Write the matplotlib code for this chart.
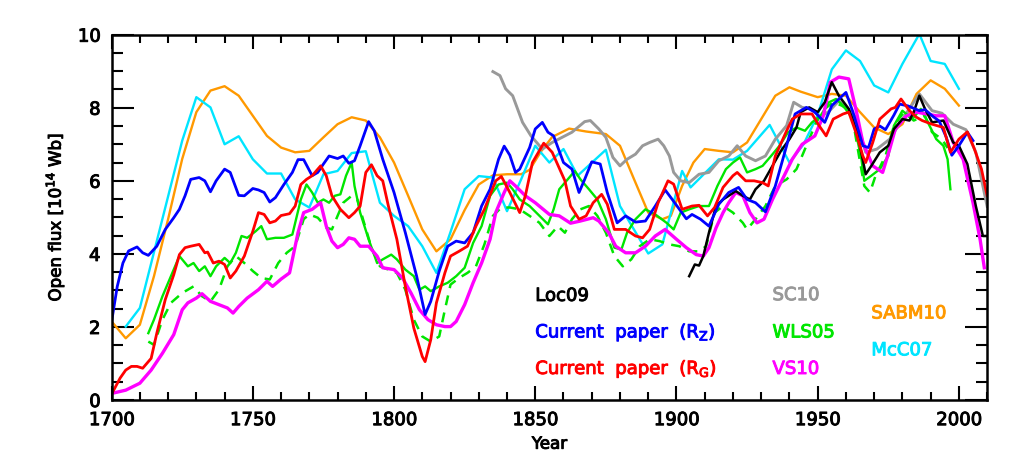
"""Open solar flux reconstructions 1700-2010."""

import numpy as np
from matplotlib import pyplot as plt
from matplotlib import patheffects as pe

# SABM10 (orange)
sabm_yr = [1700, 1705, 1710, 1715, 1720, 1725, 1730, 1735, 1740, 1745, 1750, 1755, 1760, 1765,
           1770, 1775, 1780, 1785, 1790, 1795, 1800, 1805, 1810, 1815, 1820, 1825, 1830, 1835,
           1840, 1845, 1848, 1852, 1856, 1862, 1868, 1875, 1880, 1885, 1890, 1895, 1898, 1902,
           1906, 1910, 1915, 1920, 1925, 1930, 1935, 1940, 1944, 1950, 1955, 1960, 1965, 1970,
           1975, 1980, 1985, 1990, 1995, 2000]
sabm_val = [2.15, 1.69, 2.06, 3.39, 4.95, 6.6, 7.88, 8.47, 8.59, 8.33, 7.78, 7.23, 6.91, 6.78,
            6.82, 7.19, 7.55, 7.74, 7.65, 7.19, 6.5, 5.59, 4.67, 4.07, 4.4, 5.2, 5.9, 6.15,
            6.18, 6.18, 6.3, 6.8, 7.2, 7.43, 7.35, 7.28, 6.96, 6.04, 5.13, 4.95, 5.04, 5.86,
            6.5, 6.87, 6.82, 6.78, 7.05, 7.69, 8.33, 8.56, 8.44, 8.29, 8.38, 8.33, 7.88, 7.46,
            7.28, 7.55, 8.38, 8.75, 8.52, 8.06]

# McC07 (cyan)
mcc_yr = [1705, 1710, 1725, 1730, 1735, 1740, 1745, 1750, 1755, 1760, 1765, 1770, 1775, 1780,
          1785, 1790, 1795, 1800, 1805, 1810, 1815, 1820, 1825, 1830, 1835, 1840, 1845, 1850,
          1855, 1860, 1865, 1875, 1880, 1890, 1895, 1902, 1905, 1915, 1920, 1925, 1933, 1940,
          1945, 1950, 1955, 1960, 1965, 1970, 1975, 1980, 1986, 1990, 1995, 2000]
mcc_val = [2.01, 2.52, 7.1, 8.29, 8.01, 7.0, 7.22, 6.59, 6.2, 6.2, 5.49, 5.27, 6.18, 6.27,
           6.76, 6.81, 5.4, 5.04, 4.76, 4.21, 3.48, 4.6, 5.77, 6.13, 6.09, 5.17, 6.04, 6.96,
           6.5, 6.87, 6.14, 6.85, 5.31, 4.01, 4.26, 6.27, 5.82, 6.59, 6.58, 6.82, 7.53, 6.5,
           7.0, 7.8, 9.05, 9.57, 9.28, 8.61, 8.42, 9.2, 10.02, 9.28, 9.2, 8.52]

# Current paper, R_Z (blue)
rz_yr = [1700, 1702, 1704, 1706, 1709, 1711, 1713, 1716, 1719, 1722, 1724, 1726, 1728, 1731,
         1733, 1735, 1737, 1740, 1742, 1745, 1747, 1750, 1752, 1754, 1756, 1758, 1761, 1764,
         1766, 1768, 1771, 1773, 1775, 1777, 1780, 1782, 1784, 1786, 1788, 1791, 1793, 1796,
         1800, 1804, 1808, 1811, 1813, 1816, 1819, 1822, 1825, 1828, 1831, 1834, 1837, 1839,
         1841, 1843, 1844.5, 1848, 1850, 1852.5, 1854.5, 1856.5, 1860, 1863, 1865.5, 1867.5,
         1870, 1873, 1875.5, 1879, 1882, 1885.5, 1889, 1892.5, 1896, 1898.5, 1903.5, 1905.5,
         1908.5, 1911.5, 1915, 1918.5, 1922, 1925, 1928, 1931.5, 1935, 1939, 1942, 1946, 1949,
         1952.5, 1955, 1960, 1962.5, 1966, 1968, 1970, 1972, 1974, 1977, 1979, 1982, 1986,
         1988, 1991, 1993, 1995.5, 1997.5, 2000, 2003, 2005]
rz_val = [2.15, 3.11, 3.75, 4.08, 4.19, 4.03, 3.96, 4.21, 4.67, 4.99, 5.22, 5.59, 6.04, 6.09,
          6.0, 5.7, 6.0, 6.32, 6.23, 5.6, 5.59, 5.79, 5.75, 5.68, 5.42, 5.54, 5.9, 6.23,
          6.58, 6.58, 6.14, 6.23, 6.46, 6.68, 6.61, 6.68, 6.48, 6.55, 6.96, 7.62, 7.37, 6.59,
          5.68, 4.58, 3.39, 2.34, 2.7, 3.53, 4.21, 4.35, 4.3, 4.58, 5.31, 5.77, 6.59, 6.95,
          6.7, 6.23, 6.32, 6.91, 7.42, 7.6, 7.33, 7.23, 6.5, 6.32, 5.68, 6.04,
          6.52, 6.46, 5.68, 4.85, 5.04, 4.87, 4.9, 5.31, 5.75, 5.49, 4.96, 5.08,
          4.95, 4.76, 5.36, 5.68, 5.82, 5.49, 5.4, 5.15, 5.86, 6.96, 7.83, 8.01, 7.88,
          7.6, 8.06, 8.42, 7.88, 6.96, 6.91, 7.42, 7.5, 7.4, 7.8, 8.1, 8.05, 7.92,
          7.95, 7.75, 7.64, 7.2, 6.7, 6.96, 7.33, 7.1]

# Current paper, R_G (red)
rg_yr = [1700, 1703, 1705, 1707, 1709, 1711, 1714, 1716, 1719, 1722, 1724, 1726, 1728, 1731,
         1733, 1734, 1736, 1738, 1740, 1742, 1744, 1747, 1750, 1752, 1754, 1756, 1758, 1760,
         1763, 1765, 1767, 1769, 1771, 1774, 1776, 1778, 1781, 1784, 1786, 1788, 1790, 1792,
         1794, 1796, 1798, 1801, 1804, 1807, 1810, 1811, 1813, 1815, 1818, 1820, 1823, 1826,
         1829, 1832, 1836, 1838, 1841, 1844.5, 1846.5, 1849, 1853, 1856, 1860.5, 1862.5,
         1865.5, 1868, 1870.5, 1873.5, 1875.5, 1878, 1882, 1885.5, 1888, 1890.5, 1893.5,
         1897, 1899, 1902, 1905.5, 1908, 1911, 1913.5, 1916.5, 1920, 1921.5, 1924.5, 1927.5,
         1930.5, 1932.5, 1935, 1939, 1941, 1944, 1948, 1950.5, 1953, 1955.5, 1959, 1961,
         1963.5, 1966, 1967, 1969.5, 1972, 1974, 1976, 1977.5, 1979.5, 1982.5, 1985, 1987,
         1990.5, 1994.5, 1997, 2000, 2003, 2005.5, 2008, 2010]
rg_val = [0.16, 0.6, 0.82, 0.92, 0.92, 0.87, 1.14, 1.83, 2.75, 3.43, 3.98, 4.17, 4.21, 4.26,
          4.03, 4.05, 3.75, 3.8, 3.71, 3.34, 3.53, 3.94, 4.62, 5.13, 5.08, 4.85, 4.9, 5.05,
          5.1, 5.31, 5.9, 6.04, 6.14, 6.41, 6.14, 5.59, 5.22, 4.99, 5.13, 5.31, 6.23, 6.44,
          6.14, 6.0, 5.31, 4.4, 3.11, 1.97, 1.19, 1.05, 1.65, 2.66, 3.48, 3.94, 4.07, 4.21,
          4.76, 5.22, 6.0, 6.12, 5.68, 5.13, 5.59, 6.5, 7.03, 6.78, 6.0, 5.31,
          4.95, 5.04, 5.4, 5.63, 5.36, 4.67, 4.67, 4.49, 4.44, 4.67, 5.4,
          6.0, 5.91, 5.22, 5.31, 5.33, 5.04, 5.27, 5.82, 6.14, 6.23, 6.0, 6.0,
          5.95, 5.86, 6.68, 7.37, 7.69, 7.83, 7.83, 7.51, 7.23, 7.69, 7.83, 7.88,
          7.33, 6.68, 6.5, 7.05, 7.69, 7.83, 7.97, 8.01, 8.24, 7.92, 7.74, 7.65,
          7.55, 7.46, 6.78, 7.14, 7.34, 6.87, 6.32, 5.59]

# Loc09 (black)
loc_yr = [1904.5, 1906.5, 1908, 1909.5, 1911.5, 1914, 1916.5, 1918.5, 1921, 1923.5, 1926,
          1928, 1931, 1934, 1937, 1940, 1942.5, 1944, 1947, 1950, 1952.5, 1955, 1957.5, 1961,
          1964, 1967, 1969, 1972, 1975, 1977, 1980, 1982.5, 1984, 1986, 1988, 1990.5, 1994.5,
          1998, 2000, 2003, 2006, 2008.5, 2009.5]
loc_val = [3.39, 3.71, 3.68, 3.94, 4.58, 5.31, 5.49, 5.59, 5.72, 5.59, 5.49, 5.77, 6.0, 6.41,
           6.82, 7.14, 7.46, 7.88, 8.01, 7.88, 8.15, 8.7, 8.33, 7.97, 7.33, 6.18, 6.41, 6.78,
           6.96, 7.42, 7.69, 7.65, 7.88, 8.33, 7.97, 7.6, 7.65, 7.05, 6.96, 6.46, 5.31, 4.49,
           4.49]

# SC10 (grey)
sc_yr = [1835, 1837.5, 1839.5, 1842, 1845.5, 1848.5, 1852.5, 1856, 1859.5, 1863, 1867.5,
         1869.5, 1872.5, 1875, 1877.5, 1880, 1882.5, 1885.5, 1888, 1890.5, 1893.5, 1895.5,
         1897.5, 1899, 1901.5, 1904.5, 1908, 1911.5, 1915, 1918.5, 1921.5, 1924.5, 1928,
         1931.5, 1935, 1939, 1941.5, 1944.5, 1947.5, 1951, 1954, 1957.5, 1961, 1963.5, 1967,
         1971, 1975.5, 1980, 1986, 1990.5, 1994, 1998, 2002.5, 2006, 2010]
sc_val = [8.99, 8.88, 8.52, 8.33, 7.6, 7.23, 6.87, 7.05, 7.19, 7.33, 7.62, 7.65, 7.42, 7.19,
          6.64, 6.41, 6.59, 6.73, 6.96, 7.05, 7.14, 6.96, 6.68, 6.23, 6.0, 5.95, 6.18, 6.23,
          6.55, 6.68, 6.96, 6.68, 6.55, 6.68, 7.14, 7.51, 8.15, 8.01, 7.97, 7.75, 7.9, 8.19,
          7.95, 7.74, 6.78, 6.87, 7.14, 7.69, 8.38, 7.92, 7.85, 7.55, 7.4, 6.78, 5.3]

# VS10 (magenta)
vs_yr = [1700, 1705, 1710, 1714, 1718, 1722, 1725, 1727, 1730, 1732, 1735, 1738, 1741, 1743,
         1745, 1748, 1752, 1755, 1757, 1760, 1763, 1766, 1768, 1771, 1774, 1776, 1778, 1780,
         1782, 1784, 1786, 1788, 1791, 1794, 1796, 1800, 1803, 1806, 1809, 1812, 1815, 1818,
         1820, 1822, 1825, 1828, 1831, 1834, 1836, 1839, 1841, 1843, 1846.5, 1850, 1855,
         1858.5, 1862.5, 1866, 1870.5, 1872.5, 1876, 1878.5, 1882, 1885.5, 1889, 1892.5, 1896,
         1900, 1903.5, 1907, 1909.5, 1911.5, 1914, 1916.5, 1918.5, 1921, 1923.5, 1926, 1928.5,
         1931, 1934, 1937.5, 1941, 1944.5, 1949, 1952, 1954.5, 1957.5, 1961, 1963.5, 1966,
         1969.5, 1973, 1975.5, 1977.5, 1981.5, 1985, 1988.5, 1992, 1995, 1998, 2001.5, 2005,
         2007.5, 2009]
vs_val = [0.18, 0.27, 0.46, 0.82, 1.28, 1.79, 2.47, 2.66, 2.79, 2.91, 2.7, 2.61, 2.52, 2.38,
          2.56, 2.79, 3.02, 3.25, 3.11, 3.31, 3.48, 4.58, 5.13, 5.22, 5.4, 4.76, 4.35, 4.17,
          4.26, 4.44, 4.4, 4.21, 4.21, 3.94, 3.62, 3.57, 3.34, 2.93, 2.47, 2.2, 2.06, 2.01,
          2.01, 2.15, 2.61, 3.21, 3.75, 4.4, 5.13, 5.68, 6.0, 5.86, 5.59, 5.4, 5.08,
          5.04, 4.84, 4.9, 4.99, 4.9, 4.58, 4.21, 4.03, 4.03, 4.21, 4.49, 4.67,
          4.4, 4.17, 3.98, 3.94, 4.17, 4.71, 5.13, 5.4, 5.68, 5.59, 5.13, 4.85,
          4.95, 5.49, 6.04, 6.59, 7.0, 7.23, 7.78, 8.7, 8.84, 8.79, 7.97, 7.05,
          6.41, 6.23, 6.87, 7.42, 7.78, 7.88, 7.83, 7.78, 7.78, 7.05, 6.59, 5.4,
          4.4, 3.62]

# WLS05 (green, solid)
wls_yr = [1713, 1715, 1718, 1721, 1724, 1727, 1729, 1731, 1733, 1735, 1737, 1740, 1742, 1744,
          1746, 1748, 1751, 1753, 1755, 1758, 1761, 1764, 1767, 1769, 1771, 1773, 1775, 1777,
          1779, 1781, 1783, 1785, 1786, 1788, 1791, 1794, 1796, 1799, 1801, 1804, 1807, 1809,
          1811, 1813, 1816, 1819, 1822, 1825, 1828, 1831, 1834, 1837, 1840, 1842, 1844.5, 1848,
          1851, 1854.5, 1856.5, 1858.5, 1861.5, 1864, 1866, 1869, 1872, 1875, 1878, 1880.5,
          1882.5, 1885.5, 1889, 1892.5, 1896.5, 1899, 1901.5, 1904.5, 1908, 1911.5, 1914.5,
          1917.5, 1920, 1922.5, 1925, 1928, 1930.5, 1933.5, 1936.5, 1939.5, 1942.5, 1945.5,
          1948, 1951, 1954, 1956.5, 1959, 1962.5, 1965.5, 1966.5, 1969, 1972, 1975, 1977,
          1980, 1983.5, 1986.5, 1989, 1992, 1994.5, 1996, 1997]
wls_val = [1.83, 2.2, 2.84, 3.39, 3.94, 3.66, 3.75, 3.53, 3.66, 3.39, 3.66, 3.89, 3.75, 4.03,
           4.49, 4.44, 4.62, 4.76, 4.4, 4.44, 4.44, 4.53, 5.49, 5.9, 5.68, 5.4, 5.49, 5.4,
           5.59, 5.63, 6.14, 6.5, 5.86, 5.13, 4.4, 3.75, 3.85, 3.98, 3.85, 3.57, 3.39, 3.02,
           3.11, 2.98, 3.11, 3.21, 3.39, 3.62, 4.3, 4.76, 5.59, 5.9, 5.95, 5.77, 5.49, 5.31,
           5.08, 4.81, 5.22, 5.77, 6.04, 6.27, 6.04, 5.77, 5.49, 4.95, 4.17, 4.12,
           4.58, 4.95, 5.22, 5.08, 4.85, 4.67, 5.13, 5.22, 5.31, 5.31, 5.86,
           6.32, 6.5, 6.64, 6.23, 6.32, 6.41, 6.68, 6.96, 7.33, 7.46, 7.37,
           7.6, 7.78, 8.15, 8.24, 8.06, 7.69, 6.59, 6.0, 6.14, 6.32, 6.68, 7.51,
           7.92, 7.69, 7.97, 7.6, 7.14, 6.96, 6.59, 5.77]

# WLS05 variant (green, dashed)
wlsd_yr = [1713, 1715, 1718, 1721, 1725, 1729, 1732, 1735, 1738, 1741, 1744, 1747, 1750, 1753,
           1756, 1759, 1762, 1765, 1768, 1770, 1773, 1776, 1778, 1780, 1782, 1785, 1787, 1789,
           1792, 1795, 1798, 1801, 1804, 1807, 1810, 1813, 1816, 1818, 1820, 1823, 1826, 1829,
           1832, 1835, 1838, 1841, 1844.5, 1848, 1851.5, 1855, 1858, 1860.5, 1863, 1866, 1869,
           1872, 1875, 1878, 1881, 1884, 1887, 1890.5, 1894, 1897.5, 1901, 1904.5, 1908,
           1910.5, 1913.5, 1916.5, 1920, 1923.5, 1925, 1928, 1931.5, 1935, 1939, 1942.5, 1946,
           1949.5, 1952.5, 1955.5, 1958.5, 1962, 1964, 1966.5, 1968.5, 1970.5, 1974, 1977,
           1980.5, 1984, 1988, 1990.5, 1994, 1996]
wlsd_val = [1.6, 1.51, 2.2, 2.66, 2.93, 3.11, 2.84, 2.7, 3.02, 3.66, 3.94, 3.75, 3.53, 3.34,
            3.3, 3.75, 4.03, 4.21, 4.95, 5.08, 4.99, 4.72, 4.67, 5.04, 5.4, 5.59, 5.49, 4.95,
            4.17, 3.66, 3.57, 3.48, 3.02, 2.2, 1.74, 1.6, 1.74, 2.47, 3.16, 3.34, 3.48, 3.66,
            4.26, 5.04, 5.27, 5.27, 5.22, 5.04, 4.85, 4.49, 4.76, 4.58, 4.95, 5.22, 5.31,
            5.04, 4.58, 3.94, 3.66, 3.85, 4.21, 4.4, 4.35, 4.26, 4.21, 4.07, 4.07,
            4.21, 5.13, 5.31, 5.13, 4.85, 4.67, 4.95, 5.31, 5.86, 6.04, 6.32, 6.96,
            7.6, 7.97, 8.15, 8.06, 7.88, 6.96, 5.86, 5.68, 6.14, 6.68, 7.51,
            7.88, 7.65, 7.78, 7.33, 7.14, 6.9]

fig = plt.figure(figsize=(10.24, 4.72), dpi=100)
ax = fig.add_axes([0.109, 0.1525, 0.855, 0.774])

ax.plot(sabm_yr, sabm_val, color='#ff9900', lw=1.7)
ax.plot(mcc_yr, mcc_val, color='#00e5ff', lw=1.7)
ax.plot(sc_yr, sc_val, color='#999999', lw=2.1)
ax.plot(wlsd_yr, wlsd_val, color='#00e600', lw=1.8, ls=(0, (4, 3)))
ax.plot(wls_yr, wls_val, color='#00e600', lw=1.7)
ax.plot(vs_yr, vs_val, color='#ff00ff', lw=2.4)
ax.plot(loc_yr, loc_val, color='black', lw=1.8)
ax.plot(rz_yr, rz_val, color='#0000ff', lw=2.0)
ax.plot(rg_yr, rg_val, color='#ff0000', lw=2.0)


def thick(color):
    # IDL-style text is a little heavier than DejaVu normal
    return [pe.withStroke(linewidth=0.7, foreground=color)]


labels = [(1850, 2.85, 'Loc09', 'black'),
          (1850, 1.85, 'Current  paper  (R$_\\mathregular{Z}$)', '#0000ff'),
          (1850, 0.85, 'Current  paper  (R$_\\mathregular{G}$)', '#ff0000'),
          (1934, 2.87, 'SC10', '#999999'),
          (1934, 1.85, 'WLS05', '#00e600'),
          (1934, 0.85, 'VS10', '#ff00ff'),
          (1969, 2.37, 'SABM10', '#ff9900'),
          (1969, 1.36, 'McC07', '#00e5ff')]
for xx, yy, txt, c in labels:
    ax.text(xx, yy, txt, color=c, fontsize=13, va='center', ha='left',
            path_effects=thick(c))

ax.set_xlim(1700, 2010)
ax.set_ylim(0, 10)
ax.set_xticks(np.arange(1700, 2001, 50))
ax.set_xticks(np.arange(1700, 2011, 10), minor=True)
ax.set_yticks(np.arange(0, 11, 2))
ax.set_yticks(np.arange(0, 10.1, 0.5), minor=True)
ax.tick_params(which='both', direction='in', top=True, right=True, width=1.5,
               labelsize=13, pad=8)
ax.tick_params(axis='y', which='major', length=16)
ax.tick_params(axis='y', which='minor', length=8)
ax.tick_params(axis='x', which='major', length=10)
ax.tick_params(axis='x', which='minor', length=6)
for s in ax.spines.values():
    s.set_linewidth(1.8)
for lab in ax.get_xticklabels() + ax.get_yticklabels():
    lab.set_path_effects(thick('black'))

ax.set_xlabel('Year', fontsize=12, labelpad=4, path_effects=thick('black'))
ax.set_ylabel('Open flux [10$^\\mathregular{14}$ Wb]', fontsize=12, labelpad=8,
              path_effects=thick('black'))

fig.savefig('out.png', dpi=100)
